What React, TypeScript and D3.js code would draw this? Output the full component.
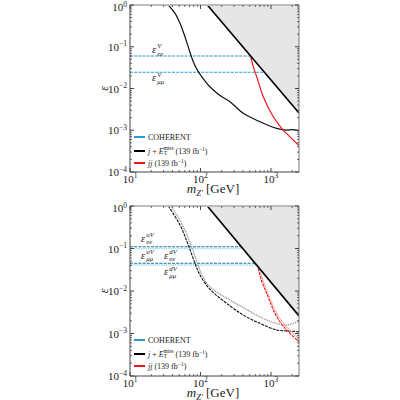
import React from "react";
import * as d3 from "d3";

// Axis ranges
const massDomain: [number, number] = [10, 2500];
const epsDomain: [number, number] = [1e-4, 1];
const xTickExps = [1, 2, 3];
const yTickExps = [0, -1, -2, -3, -4];

// Perturbativity / excluded boundary (shaded above)
const boundaryMass = [125, 2500];
const boundaryEps = [1, 0.0026];

// --- Upper panel: vector couplings ---
const coherentVee = 0.06;
const coherentVeeEnd = 510;
const coherentVmm = 0.0245;
const coherentVmmEnd = 800;

const monojetMassV = [34.9, 43.5, 51.2, 60.2, 69.3, 79, 93, 113, 136, 189, 262, 404, 698, 1205, 1670, 2000, 2495];
const monojetEpsV = [1, 0.63, 0.365, 0.174, 0.0836, 0.0438, 0.0253, 0.016, 0.011, 0.0068, 0.00483, 0.00255, 0.0016, 0.00111, 0.00101, 0.00104, 0.00098];

const dijetMassV = [515, 560, 627, 778, 1079, 1494, 2495];
const dijetEpsV = [0.059, 0.034, 0.0192, 0.00637, 0.00211, 0.00101, 0.00043];

// --- Lower panel: up / down vector couplings ---
const coherentUee = 0.11;
const coherentUeeEnd = 377;
const coherentUmm = 0.045;
const coherentUmmEnd = 589;
const coherentDee = 0.1;
const coherentDeeEnd = 395;
const coherentDmm = 0.041;
const coherentDmmEnd = 617;

const monojetMassU = [34.9, 51.2, 67.1, 83.6, 98.4, 136, 235, 404, 698, 1205, 1670, 2495];
const monojetEpsU = [1, 0.357, 0.121, 0.0449, 0.0238, 0.011, 0.00514, 0.00272, 0.00174, 0.00121, 0.00115, 0.0011];
const monojetMassD = [38.2, 55.6, 73.3, 90.6, 105, 136, 235, 404, 698, 1205, 1670, 2495];
const monojetEpsD = [1, 0.357, 0.121, 0.0449, 0.0238, 0.0126, 0.0068, 0.0041, 0.00245, 0.00172, 0.00158, 0.00195];

const dijetMassU = [661, 740, 869, 1205, 1670, 2495];
const dijetEpsU = [0.0342, 0.017, 0.00883, 0.00248, 0.00121, 0.00064];
const dijetMassD = [690, 770, 890, 1230, 1700, 2495];
const dijetEpsD = [0.033, 0.0175, 0.0095, 0.0028, 0.00138, 0.00075];

const legendLabels = ["COHERENT", "monojet", "dijet"];

const FONT = "'Liberation Serif', 'DejaVu Serif', serif";
const BLUE = "#2b9bd6";
const BLUE_DARK = "#1c6f9e";
const BLUE_LIGHT = "#8fd3f0";
const RED = "#f0141e";
const RED_LIGHT = "#f78a8a";

type Pt = [number, number];
const zip = (a: number[], b: number[]): Pt[] => a.map((v, i) => [v, b[i]]);

const X0 = 130;
const X1 = 299;

function Eps({ x, y, sub, sup, size = 10.5 }: { x: number; y: number; sub: string; sup: string; size?: number }) {
  return (
    <g fontFamily={FONT} fontStyle="italic" fill="#222">
      <text x={x} y={y} fontSize={size}>ε</text>
      <text x={x + size * 0.5} y={y - size * 0.45} fontSize={size * 0.65}>{sup}</text>
      <text x={x + size * 0.5} y={y + size * 0.25} fontSize={size * 0.65}>{sub}</text>
    </g>
  );
}

function Panel({ top, bottom, lower }: { top: number; bottom: number; lower: boolean }) {
  const x = d3.scaleLog().domain(massDomain).range([X0, X1]);
  const y = d3.scaleLog().domain(epsDomain).range([bottom, top]);
  const line = d3
    .line<Pt>()
    .x((d) => x(d[0]))
    .y((d) => y(d[1]))
    .curve(d3.curveCatmullRom.alpha(0.5));
  const straight = d3
    .line<Pt>()
    .x((d) => x(d[0]))
    .y((d) => y(d[1]));

  const boundary = zip(boundaryMass, boundaryEps);
  const shade = [...boundary, [massDomain[1], epsDomain[1]] as Pt];

  // minor ticks
  const xMinor: number[] = [];
  for (let e = 1; e <= 3; e++) for (let k = 2; k <= 9; k++) { const v = k * 10 ** e; if (v <= massDomain[1]) xMinor.push(v); }
  const yMinor: number[] = [];
  for (let e = -4; e < 0; e++) for (let k = 2; k <= 9; k++) yMinor.push(k * 10 ** e);

  const clipId = lower ? "clipLower" : "clipUpper";
  const frame = "#444";

  const hLine = (eps: number, end: number, color: string, dash: string, w = 1.2) => (
    <path d={straight([[massDomain[0], eps], [end, eps]]) || ""} stroke={color} strokeWidth={w} strokeDasharray={dash} fill="none" />
  );

  const legY = lower ? [bottom - 36, bottom - 22, bottom - 10] : [bottom - 35, bottom - 21, bottom - 9];

  return (
    <g>
      <defs>
        <clipPath id={clipId}>
          <rect x={X0} y={top} width={X1 - X0} height={bottom - top} />
        </clipPath>
      </defs>
      <g clipPath={`url(#${clipId})`}>
        <path d={straight(shade) || ""} fill="#e6e6e6" stroke="none" />
        {!lower && (
          <>
            {hLine(coherentVee, coherentVeeEnd, BLUE, "3,1.2")}
            {hLine(coherentVmm, coherentVmmEnd, BLUE, "3,1.2")}
            <path d={line(zip(monojetMassV, monojetEpsV)) || ""} stroke="#111" strokeWidth={1.2} fill="none" />
            <path d={line(zip(dijetMassV, dijetEpsV)) || ""} stroke={RED} strokeWidth={1.2} fill="none" />
          </>
        )}
        {lower && (
          <>
            {hLine(coherentDee, coherentDeeEnd, BLUE_LIGHT, "1,0.8", 1.6)}
            {hLine(coherentDmm, coherentDmmEnd, BLUE_LIGHT, "1,0.8", 1.6)}
            {hLine(coherentUee, coherentUeeEnd, BLUE_DARK, "3,1.2")}
            {hLine(coherentUmm, coherentUmmEnd, BLUE_DARK, "3,1.2")}
            <path d={line(zip(monojetMassD, monojetEpsD)) || ""} stroke="#8a8a8a" strokeWidth={1.3} strokeDasharray="1,0.8" fill="none" />
            <path d={line(zip(monojetMassU, monojetEpsU)) || ""} stroke="#111" strokeWidth={1.1} strokeDasharray="3,1" fill="none" />
            <path d={line(zip(dijetMassD, dijetEpsD)) || ""} stroke={RED_LIGHT} strokeWidth={1.4} strokeDasharray="1,0.8" fill="none" />
            <path d={line(zip(dijetMassU, dijetEpsU)) || ""} stroke={RED} strokeWidth={1.1} strokeDasharray="3,1" fill="none" />
          </>
        )}
        <path d={straight(boundary) || ""} stroke="#000" strokeWidth={1.6} fill="none" />
      </g>

      {/* frame */}
      <line x1={X0} x2={X1} y1={top} y2={top} stroke="#bdbdbd" strokeWidth={2.2} />
      <line x1={X0} x2={X0} y1={top} y2={bottom} stroke={frame} strokeWidth={1} />
      <line x1={X0} x2={X1} y1={bottom} y2={bottom} stroke={frame} strokeWidth={1} />
      <line x1={X1} x2={X1} y1={top} y2={bottom} stroke="#777" strokeWidth={1} />

      {/* ticks */}
      {xTickExps.map((e) => (
        <g key={`xt${e}`}>
          <line x1={x(10 ** e)} x2={x(10 ** e)} y1={bottom} y2={bottom - 4} stroke={frame} />
          <line x1={x(10 ** e)} x2={x(10 ** e)} y1={top} y2={top + 4} stroke={frame} />
        </g>
      ))}
      {xMinor.map((v) => (
        <g key={`xm${v}`}>
          <line x1={x(v)} x2={x(v)} y1={bottom} y2={bottom - 2} stroke={frame} strokeWidth={0.8} />
          <line x1={x(v)} x2={x(v)} y1={top} y2={top + 2} stroke={frame} strokeWidth={0.8} />
        </g>
      ))}
      {yTickExps.map((e) => (
        <g key={`yt${e}`}>
          <line x1={X0} x2={X0 + 4} y1={y(10 ** e)} y2={y(10 ** e)} stroke={frame} />
          <line x1={X1} x2={X1 - 4} y1={y(10 ** e)} y2={y(10 ** e)} stroke={frame} />
        </g>
      ))}
      {yMinor.map((v) => (
        <g key={`ym${v}`}>
          <line x1={X0} x2={X0 + 2} y1={y(v)} y2={y(v)} stroke={frame} strokeWidth={0.8} />
          <line x1={X1} x2={X1 - 2} y1={y(v)} y2={y(v)} stroke={frame} strokeWidth={0.8} />
        </g>
      ))}

      {/* tick labels */}
      <g fontFamily={FONT} fill="#222">
        {yTickExps.map((e) => (
          <text key={`yl${e}`} x={X0 - 3} y={Math.max(y(10 ** e) + 4, top + 6)} fontSize={11} textAnchor="end">
            10<tspan dy={-4.5} fontSize={7.5}>{e === 0 ? "0" : `−${-e}`}</tspan>
          </text>
        ))}
        {xTickExps.map((e) => (
          <text key={`xl${e}`} x={x(10 ** e)} y={bottom + 11} fontSize={11} textAnchor="middle">
            10<tspan dy={-5} fontSize={7.5}>{e}</tspan>
          </text>
        ))}
        <text x={213} y={bottom + 21} fontSize={13} textAnchor="middle">
          <tspan fontStyle="italic">m</tspan>
          <tspan dy={2.5} fontSize={8.5} fontStyle="italic">Z′</tspan>
          <tspan dy={-2.5}> [GeV]</tspan>
        </text>
        <text transform={`translate(${108},${(top + bottom) / 2}) rotate(-90)`} fontSize={12} fontStyle="italic" textAnchor="middle">ε</text>
      </g>

      {/* coupling labels */}
      {!lower && (
        <>
          <Eps x={152} y={y(coherentVee) - 3} sub="ee" sup="V" />
          <Eps x={152} y={y(coherentVmm) + 9} sub="μμ" sup="V" />
        </>
      )}
      {lower && (
        <>
          <Eps x={141} y={y(coherentUee) - 5} sub="ee" sup="uV" />
          <Eps x={141} y={y(coherentUee) + 12} sub="μμ" sup="uV" />
          <Eps x={164} y={y(coherentUee) + 12} sub="ee" sup="dV" />
          <Eps x={164} y={y(coherentUmm) + 12} sub="μμ" sup="dV" />
        </>
      )}

      {/* legend */}
      <g fontFamily={FONT} fill="#222" fontSize={8}>
        <line x1={134} x2={145} y1={legY[0]} y2={legY[0]} stroke={BLUE} strokeWidth={2} />
        <text x={148} y={legY[0] + 2.5}>{legendLabels[0]}</text>
        <line x1={134} x2={145} y1={legY[1]} y2={legY[1]} stroke="#000" strokeWidth={2} />
        <text x={148} y={legY[1] + 2.5}>
          <tspan fontStyle="italic">j</tspan> + <tspan fontStyle="italic">E</tspan>
          <tspan dy={1.5} fontSize={5.5}>T</tspan>
          <tspan dx={-3.5} dy={-5} fontSize={5.5}>miss</tspan>
          <tspan dy={3.5}> (139 fb</tspan>
          <tspan dy={-3} fontSize={5.5}>−1</tspan>
          <tspan dy={3}>)</tspan>
        </text>
        <line x1={134} x2={145} y1={legY[2]} y2={legY[2]} stroke={RED} strokeWidth={2} />
        <text x={148} y={legY[2] + 2.5}>
          <tspan fontStyle="italic">jj</tspan> (139 fb<tspan dy={-3} fontSize={5.5}>−1</tspan>
          <tspan dy={3}>)</tspan>
        </text>
      </g>
    </g>
  );
}

export default function App() {
  return (
    <svg width={400} height={400} style={{ position: "absolute", left: 0, top: 0, background: "#fff" }}>
      <rect width={400} height={400} fill="#fff" />
      <Panel top={5} bottom={172} lower={false} />
      <Panel top={206} bottom={376} lower={true} />
    </svg>
  );
}
